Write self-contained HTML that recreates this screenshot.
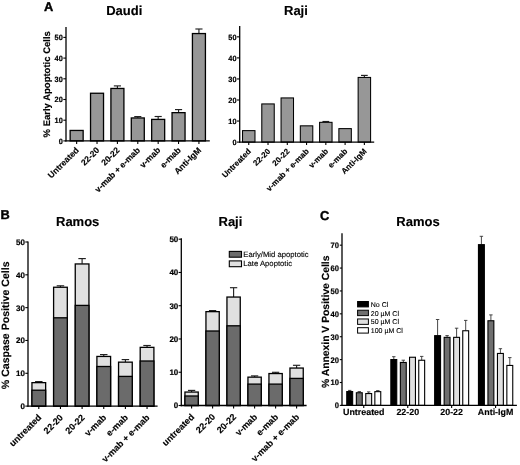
<!DOCTYPE html>
<html><head><meta charset="utf-8"><style>
html,body{margin:0;padding:0;background:#fff;}
svg{display:block;will-change:transform;}
text{font-family:"Liberation Sans", sans-serif;text-rendering:geometricPrecision;}
</style></head><body>
<svg width="520" height="465" viewBox="0 0 520 465">
<rect x="0" y="0" width="520" height="465" fill="#fff"/>
<text x="44.00" y="10.80" font-size="12.8" font-weight="bold" text-anchor="start" fill="#000" stroke="#000" stroke-width="0.4">A</text>
<text x="106.20" y="15.20" font-size="13" font-weight="bold" text-anchor="start" fill="#000" stroke="#000" stroke-width="0.15">Daudi</text>
<text x="284.00" y="15.00" font-size="13" font-weight="bold" text-anchor="start" fill="#000" stroke="#000" stroke-width="0.15">Raji</text>
<text x="50.00" y="84.30" font-size="9.5" font-weight="bold" text-anchor="middle" transform="rotate(-90 50.00 84.30)" fill="#000" stroke="#000" stroke-width="0.15">% Early Apoptotic Cells</text>
<line x1="66.00" y1="27.00" x2="66.00" y2="141.55" stroke="#000" stroke-width="1.3"/>
<line x1="63.30" y1="140.90" x2="66.00" y2="140.90" stroke="#000" stroke-width="1.1"/>
<text transform="translate(62.80 143.64) scale(0.97 1)" x="0" y="0" font-size="7.6" font-weight="bold" text-anchor="end" fill="#000" stroke="#000" stroke-width="0.2">0</text>
<line x1="63.30" y1="120.20" x2="66.00" y2="120.20" stroke="#000" stroke-width="1.1"/>
<text transform="translate(62.80 122.94) scale(0.97 1)" x="0" y="0" font-size="7.6" font-weight="bold" text-anchor="end" fill="#000" stroke="#000" stroke-width="0.2">10</text>
<line x1="63.30" y1="99.50" x2="66.00" y2="99.50" stroke="#000" stroke-width="1.1"/>
<text transform="translate(62.80 102.24) scale(0.97 1)" x="0" y="0" font-size="7.6" font-weight="bold" text-anchor="end" fill="#000" stroke="#000" stroke-width="0.2">20</text>
<line x1="63.30" y1="78.80" x2="66.00" y2="78.80" stroke="#000" stroke-width="1.1"/>
<text transform="translate(62.80 81.54) scale(0.97 1)" x="0" y="0" font-size="7.6" font-weight="bold" text-anchor="end" fill="#000" stroke="#000" stroke-width="0.2">30</text>
<line x1="63.30" y1="58.10" x2="66.00" y2="58.10" stroke="#000" stroke-width="1.1"/>
<text transform="translate(62.80 60.84) scale(0.97 1)" x="0" y="0" font-size="7.6" font-weight="bold" text-anchor="end" fill="#000" stroke="#000" stroke-width="0.2">40</text>
<line x1="63.30" y1="37.40" x2="66.00" y2="37.40" stroke="#000" stroke-width="1.1"/>
<text transform="translate(62.80 40.14) scale(0.97 1)" x="0" y="0" font-size="7.6" font-weight="bold" text-anchor="end" fill="#000" stroke="#000" stroke-width="0.2">50</text>
<rect x="70.15" y="130.45" width="13.00" height="10.45" fill="#979797" stroke="#000" stroke-width="1.3"/>
<rect x="90.53" y="93.25" width="13.00" height="47.65" fill="#979797" stroke="#000" stroke-width="1.3"/>
<line x1="117.41" y1="85.90" x2="117.41" y2="88.30" stroke="#222" stroke-width="1.15"/>
<line x1="113.83" y1="85.90" x2="120.98" y2="85.90" stroke="#222" stroke-width="1.15"/>
<rect x="110.91" y="88.45" width="13.00" height="52.45" fill="#979797" stroke="#000" stroke-width="1.3"/>
<line x1="137.79" y1="116.60" x2="137.79" y2="117.80" stroke="#222" stroke-width="1.15"/>
<line x1="134.22" y1="116.60" x2="141.36" y2="116.60" stroke="#222" stroke-width="1.15"/>
<rect x="131.29" y="117.95" width="13.00" height="22.95" fill="#979797" stroke="#000" stroke-width="1.3"/>
<line x1="158.17" y1="116.50" x2="158.17" y2="119.25" stroke="#222" stroke-width="1.15"/>
<line x1="154.59" y1="116.50" x2="161.74" y2="116.50" stroke="#222" stroke-width="1.15"/>
<rect x="151.67" y="119.40" width="13.00" height="21.50" fill="#979797" stroke="#000" stroke-width="1.3"/>
<line x1="178.55" y1="109.60" x2="178.55" y2="112.50" stroke="#222" stroke-width="1.15"/>
<line x1="174.97" y1="109.60" x2="182.12" y2="109.60" stroke="#222" stroke-width="1.15"/>
<rect x="172.05" y="112.65" width="13.00" height="28.25" fill="#979797" stroke="#000" stroke-width="1.3"/>
<line x1="198.93" y1="29.00" x2="198.93" y2="33.40" stroke="#222" stroke-width="1.15"/>
<line x1="195.36" y1="29.00" x2="202.50" y2="29.00" stroke="#222" stroke-width="1.15"/>
<rect x="192.43" y="33.55" width="13.00" height="107.35" fill="#979797" stroke="#000" stroke-width="1.3"/>
<line x1="65.35" y1="140.90" x2="209.80" y2="140.90" stroke="#000" stroke-width="1.3"/>
<line x1="76.65" y1="140.90" x2="76.65" y2="143.90" stroke="#000" stroke-width="1.1"/>
<text x="79.45" y="150.70" font-size="8.5" font-weight="bold" text-anchor="end" transform="rotate(-45 79.45 150.70)" fill="#000" stroke="#000" stroke-width="0.15">Untreated</text>
<line x1="97.03" y1="140.90" x2="97.03" y2="143.90" stroke="#000" stroke-width="1.1"/>
<text x="99.83" y="150.70" font-size="8.5" font-weight="bold" text-anchor="end" transform="rotate(-45 99.83 150.70)" fill="#000" stroke="#000" stroke-width="0.15">22-20</text>
<line x1="117.41" y1="140.90" x2="117.41" y2="143.90" stroke="#000" stroke-width="1.1"/>
<text x="120.21" y="150.70" font-size="8.5" font-weight="bold" text-anchor="end" transform="rotate(-45 120.21 150.70)" fill="#000" stroke="#000" stroke-width="0.15">20-22</text>
<line x1="137.79" y1="140.90" x2="137.79" y2="143.90" stroke="#000" stroke-width="1.1"/>
<text x="140.59" y="150.70" font-size="8.5" font-weight="bold" text-anchor="end" transform="rotate(-45 140.59 150.70)" fill="#000" stroke="#000" stroke-width="0.15">v-mab + e-mab</text>
<line x1="158.17" y1="140.90" x2="158.17" y2="143.90" stroke="#000" stroke-width="1.1"/>
<text x="160.97" y="150.70" font-size="8.5" font-weight="bold" text-anchor="end" transform="rotate(-45 160.97 150.70)" fill="#000" stroke="#000" stroke-width="0.15">v-mab</text>
<line x1="178.55" y1="140.90" x2="178.55" y2="143.90" stroke="#000" stroke-width="1.1"/>
<text x="181.35" y="150.70" font-size="8.5" font-weight="bold" text-anchor="end" transform="rotate(-45 181.35 150.70)" fill="#000" stroke="#000" stroke-width="0.15">e-mab</text>
<line x1="198.93" y1="140.90" x2="198.93" y2="143.90" stroke="#000" stroke-width="1.1"/>
<text x="201.73" y="150.70" font-size="8.5" font-weight="bold" text-anchor="end" transform="rotate(-45 201.73 150.70)" fill="#000" stroke="#000" stroke-width="0.15">Anti-IgM</text>
<line x1="239.70" y1="26.00" x2="239.70" y2="142.75" stroke="#000" stroke-width="1.3"/>
<line x1="237.00" y1="142.10" x2="239.70" y2="142.10" stroke="#000" stroke-width="1.1"/>
<text transform="translate(236.50 144.84) scale(0.97 1)" x="0" y="0" font-size="7.6" font-weight="bold" text-anchor="end" fill="#000" stroke="#000" stroke-width="0.2">0</text>
<line x1="237.00" y1="121.05" x2="239.70" y2="121.05" stroke="#000" stroke-width="1.1"/>
<text transform="translate(236.50 123.79) scale(0.97 1)" x="0" y="0" font-size="7.6" font-weight="bold" text-anchor="end" fill="#000" stroke="#000" stroke-width="0.2">10</text>
<line x1="237.00" y1="100.00" x2="239.70" y2="100.00" stroke="#000" stroke-width="1.1"/>
<text transform="translate(236.50 102.74) scale(0.97 1)" x="0" y="0" font-size="7.6" font-weight="bold" text-anchor="end" fill="#000" stroke="#000" stroke-width="0.2">20</text>
<line x1="237.00" y1="78.95" x2="239.70" y2="78.95" stroke="#000" stroke-width="1.1"/>
<text transform="translate(236.50 81.69) scale(0.97 1)" x="0" y="0" font-size="7.6" font-weight="bold" text-anchor="end" fill="#000" stroke="#000" stroke-width="0.2">30</text>
<line x1="237.00" y1="57.90" x2="239.70" y2="57.90" stroke="#000" stroke-width="1.1"/>
<text transform="translate(236.50 60.64) scale(0.97 1)" x="0" y="0" font-size="7.6" font-weight="bold" text-anchor="end" fill="#000" stroke="#000" stroke-width="0.2">40</text>
<line x1="237.00" y1="36.85" x2="239.70" y2="36.85" stroke="#000" stroke-width="1.1"/>
<text transform="translate(236.50 39.59) scale(0.97 1)" x="0" y="0" font-size="7.6" font-weight="bold" text-anchor="end" fill="#000" stroke="#000" stroke-width="0.2">50</text>
<rect x="242.53" y="130.62" width="12.45" height="11.47" fill="#979797" stroke="#000" stroke-width="1.05"/>
<rect x="261.79" y="103.93" width="12.45" height="38.17" fill="#979797" stroke="#000" stroke-width="1.05"/>
<rect x="281.06" y="97.93" width="12.45" height="44.17" fill="#979797" stroke="#000" stroke-width="1.05"/>
<rect x="300.33" y="125.83" width="12.45" height="16.27" fill="#979797" stroke="#000" stroke-width="1.05"/>
<line x1="325.83" y1="121.50" x2="325.83" y2="122.30" stroke="#222" stroke-width="1.15"/>
<line x1="322.45" y1="121.50" x2="329.20" y2="121.50" stroke="#222" stroke-width="1.15"/>
<rect x="319.60" y="122.33" width="12.45" height="19.77" fill="#979797" stroke="#000" stroke-width="1.05"/>
<rect x="338.88" y="128.62" width="12.45" height="13.47" fill="#979797" stroke="#000" stroke-width="1.05"/>
<line x1="364.37" y1="75.40" x2="364.37" y2="77.40" stroke="#222" stroke-width="1.15"/>
<line x1="361.00" y1="75.40" x2="367.75" y2="75.40" stroke="#222" stroke-width="1.15"/>
<rect x="358.14" y="77.43" width="12.45" height="64.67" fill="#979797" stroke="#000" stroke-width="1.05"/>
<line x1="239.05" y1="142.10" x2="374.20" y2="142.10" stroke="#000" stroke-width="1.3"/>
<line x1="248.75" y1="142.10" x2="248.75" y2="145.10" stroke="#000" stroke-width="1.1"/>
<text x="251.55" y="151.90" font-size="8.0" font-weight="bold" text-anchor="end" transform="rotate(-45 251.55 151.90)" fill="#000" stroke="#000" stroke-width="0.15">Untreated</text>
<line x1="268.02" y1="142.10" x2="268.02" y2="145.10" stroke="#000" stroke-width="1.1"/>
<text x="270.82" y="151.90" font-size="8.0" font-weight="bold" text-anchor="end" transform="rotate(-45 270.82 151.90)" fill="#000" stroke="#000" stroke-width="0.15">22-20</text>
<line x1="287.29" y1="142.10" x2="287.29" y2="145.10" stroke="#000" stroke-width="1.1"/>
<text x="290.09" y="151.90" font-size="8.0" font-weight="bold" text-anchor="end" transform="rotate(-45 290.09 151.90)" fill="#000" stroke="#000" stroke-width="0.15">20-22</text>
<line x1="306.56" y1="142.10" x2="306.56" y2="145.10" stroke="#000" stroke-width="1.1"/>
<text x="309.36" y="151.90" font-size="8.0" font-weight="bold" text-anchor="end" transform="rotate(-45 309.36 151.90)" fill="#000" stroke="#000" stroke-width="0.15">v-mab + e-mab</text>
<line x1="325.83" y1="142.10" x2="325.83" y2="145.10" stroke="#000" stroke-width="1.1"/>
<text x="328.63" y="151.90" font-size="8.0" font-weight="bold" text-anchor="end" transform="rotate(-45 328.63 151.90)" fill="#000" stroke="#000" stroke-width="0.15">v-mab</text>
<line x1="345.10" y1="142.10" x2="345.10" y2="145.10" stroke="#000" stroke-width="1.1"/>
<text x="347.90" y="151.90" font-size="8.0" font-weight="bold" text-anchor="end" transform="rotate(-45 347.90 151.90)" fill="#000" stroke="#000" stroke-width="0.15">e-mab</text>
<line x1="364.37" y1="142.10" x2="364.37" y2="145.10" stroke="#000" stroke-width="1.1"/>
<text x="367.17" y="151.90" font-size="8.0" font-weight="bold" text-anchor="end" transform="rotate(-45 367.17 151.90)" fill="#000" stroke="#000" stroke-width="0.15">Anti-IgM</text>
<text x="0.50" y="218.50" font-size="12.8" font-weight="bold" text-anchor="start" fill="#000" stroke="#000" stroke-width="0.4">B</text>
<text x="56.00" y="226.00" font-size="13" font-weight="bold" text-anchor="start" fill="#000" stroke="#000" stroke-width="0.15">Ramos</text>
<text x="218.50" y="226.30" font-size="13" font-weight="bold" text-anchor="start" fill="#000" stroke="#000" stroke-width="0.15">Raji</text>
<text x="9.00" y="325.30" font-size="10.6" font-weight="bold" text-anchor="middle" transform="rotate(-90 9.00 325.30)" fill="#000" stroke="#000" stroke-width="0.15">% Caspase Positive Cells</text>
<line x1="28.00" y1="241.50" x2="28.00" y2="406.75" stroke="#000" stroke-width="1.3"/>
<line x1="25.30" y1="406.10" x2="28.00" y2="406.10" stroke="#000" stroke-width="1.1"/>
<text transform="translate(25.00 408.98) scale(1.0 1)" x="0" y="0" font-size="8.0" font-weight="bold" text-anchor="end" fill="#000" stroke="#000" stroke-width="0.2">0</text>
<line x1="25.30" y1="373.28" x2="28.00" y2="373.28" stroke="#000" stroke-width="1.1"/>
<text transform="translate(25.00 376.16) scale(1.0 1)" x="0" y="0" font-size="8.0" font-weight="bold" text-anchor="end" fill="#000" stroke="#000" stroke-width="0.2">10</text>
<line x1="25.30" y1="340.46" x2="28.00" y2="340.46" stroke="#000" stroke-width="1.1"/>
<text transform="translate(25.00 343.34) scale(1.0 1)" x="0" y="0" font-size="8.0" font-weight="bold" text-anchor="end" fill="#000" stroke="#000" stroke-width="0.2">20</text>
<line x1="25.30" y1="307.64" x2="28.00" y2="307.64" stroke="#000" stroke-width="1.1"/>
<text transform="translate(25.00 310.52) scale(1.0 1)" x="0" y="0" font-size="8.0" font-weight="bold" text-anchor="end" fill="#000" stroke="#000" stroke-width="0.2">30</text>
<line x1="25.30" y1="274.82" x2="28.00" y2="274.82" stroke="#000" stroke-width="1.1"/>
<text transform="translate(25.00 277.70) scale(1.0 1)" x="0" y="0" font-size="8.0" font-weight="bold" text-anchor="end" fill="#000" stroke="#000" stroke-width="0.2">40</text>
<line x1="25.30" y1="242.00" x2="28.00" y2="242.00" stroke="#000" stroke-width="1.1"/>
<text transform="translate(25.00 244.88) scale(1.0 1)" x="0" y="0" font-size="8.0" font-weight="bold" text-anchor="end" fill="#000" stroke="#000" stroke-width="0.2">50</text>
<line x1="38.80" y1="381.60" x2="38.80" y2="382.50" stroke="#222" stroke-width="1.15"/>
<line x1="35.05" y1="381.60" x2="42.55" y2="381.60" stroke="#222" stroke-width="1.15"/>
<rect x="31.95" y="382.65" width="13.70" height="23.45" fill="#e0e0e0" stroke="#000" stroke-width="1.3"/>
<rect x="31.95" y="390.20" width="13.70" height="15.90" fill="#6b6b6b" stroke="#000" stroke-width="1.3"/>
<line x1="60.45" y1="285.80" x2="60.45" y2="287.10" stroke="#222" stroke-width="1.15"/>
<line x1="56.70" y1="285.80" x2="64.20" y2="285.80" stroke="#222" stroke-width="1.15"/>
<rect x="53.60" y="287.25" width="13.70" height="118.85" fill="#e0e0e0" stroke="#000" stroke-width="1.3"/>
<rect x="53.60" y="317.80" width="13.70" height="88.30" fill="#6b6b6b" stroke="#000" stroke-width="1.3"/>
<line x1="82.10" y1="258.60" x2="82.10" y2="263.80" stroke="#222" stroke-width="1.15"/>
<line x1="78.35" y1="258.60" x2="85.85" y2="258.60" stroke="#222" stroke-width="1.15"/>
<rect x="75.25" y="263.95" width="13.70" height="142.15" fill="#e0e0e0" stroke="#000" stroke-width="1.3"/>
<rect x="75.25" y="305.40" width="13.70" height="100.70" fill="#6b6b6b" stroke="#000" stroke-width="1.3"/>
<line x1="103.75" y1="354.60" x2="103.75" y2="356.30" stroke="#222" stroke-width="1.15"/>
<line x1="100.00" y1="354.60" x2="107.50" y2="354.60" stroke="#222" stroke-width="1.15"/>
<rect x="96.90" y="356.45" width="13.70" height="49.65" fill="#e0e0e0" stroke="#000" stroke-width="1.3"/>
<rect x="96.90" y="366.50" width="13.70" height="39.60" fill="#6b6b6b" stroke="#000" stroke-width="1.3"/>
<line x1="125.40" y1="359.60" x2="125.40" y2="362.00" stroke="#222" stroke-width="1.15"/>
<line x1="121.65" y1="359.60" x2="129.15" y2="359.60" stroke="#222" stroke-width="1.15"/>
<rect x="118.55" y="362.15" width="13.70" height="43.95" fill="#e0e0e0" stroke="#000" stroke-width="1.3"/>
<rect x="118.55" y="376.40" width="13.70" height="29.70" fill="#6b6b6b" stroke="#000" stroke-width="1.3"/>
<line x1="147.05" y1="345.50" x2="147.05" y2="347.20" stroke="#222" stroke-width="1.15"/>
<line x1="143.30" y1="345.50" x2="150.80" y2="345.50" stroke="#222" stroke-width="1.15"/>
<rect x="140.20" y="347.35" width="13.70" height="58.75" fill="#e0e0e0" stroke="#000" stroke-width="1.3"/>
<rect x="140.20" y="361.00" width="13.70" height="45.10" fill="#6b6b6b" stroke="#000" stroke-width="1.3"/>
<line x1="27.35" y1="406.10" x2="157.60" y2="406.10" stroke="#000" stroke-width="1.3"/>
<line x1="38.80" y1="406.10" x2="38.80" y2="409.10" stroke="#000" stroke-width="1.1"/>
<text x="42.00" y="418.10" font-size="9.0" font-weight="bold" text-anchor="end" transform="rotate(-45 42.00 418.10)" fill="#000" stroke="#000" stroke-width="0.15">untreated</text>
<line x1="60.45" y1="406.10" x2="60.45" y2="409.10" stroke="#000" stroke-width="1.1"/>
<text x="63.65" y="418.10" font-size="9.0" font-weight="bold" text-anchor="end" transform="rotate(-45 63.65 418.10)" fill="#000" stroke="#000" stroke-width="0.15">22-20</text>
<line x1="82.10" y1="406.10" x2="82.10" y2="409.10" stroke="#000" stroke-width="1.1"/>
<text x="85.30" y="418.10" font-size="9.0" font-weight="bold" text-anchor="end" transform="rotate(-45 85.30 418.10)" fill="#000" stroke="#000" stroke-width="0.15">20-22</text>
<line x1="103.75" y1="406.10" x2="103.75" y2="409.10" stroke="#000" stroke-width="1.1"/>
<text x="106.95" y="418.10" font-size="9.0" font-weight="bold" text-anchor="end" transform="rotate(-45 106.95 418.10)" fill="#000" stroke="#000" stroke-width="0.15">v-mab</text>
<line x1="125.40" y1="406.10" x2="125.40" y2="409.10" stroke="#000" stroke-width="1.1"/>
<text x="128.60" y="418.10" font-size="9.0" font-weight="bold" text-anchor="end" transform="rotate(-45 128.60 418.10)" fill="#000" stroke="#000" stroke-width="0.15">e-mab</text>
<line x1="147.05" y1="406.10" x2="147.05" y2="409.10" stroke="#000" stroke-width="1.1"/>
<text x="150.25" y="418.10" font-size="9.0" font-weight="bold" text-anchor="end" transform="rotate(-45 150.25 418.10)" fill="#000" stroke="#000" stroke-width="0.15">v-mab + e-mab</text>
<line x1="181.30" y1="238.30" x2="181.30" y2="406.15" stroke="#000" stroke-width="1.3"/>
<line x1="178.60" y1="405.50" x2="181.30" y2="405.50" stroke="#000" stroke-width="1.1"/>
<text transform="translate(178.30 408.38) scale(1.0 1)" x="0" y="0" font-size="8.0" font-weight="bold" text-anchor="end" fill="#000" stroke="#000" stroke-width="0.2">0</text>
<line x1="178.60" y1="372.24" x2="181.30" y2="372.24" stroke="#000" stroke-width="1.1"/>
<text transform="translate(178.30 375.12) scale(1.0 1)" x="0" y="0" font-size="8.0" font-weight="bold" text-anchor="end" fill="#000" stroke="#000" stroke-width="0.2">10</text>
<line x1="178.60" y1="338.98" x2="181.30" y2="338.98" stroke="#000" stroke-width="1.1"/>
<text transform="translate(178.30 341.86) scale(1.0 1)" x="0" y="0" font-size="8.0" font-weight="bold" text-anchor="end" fill="#000" stroke="#000" stroke-width="0.2">20</text>
<line x1="178.60" y1="305.72" x2="181.30" y2="305.72" stroke="#000" stroke-width="1.1"/>
<text transform="translate(178.30 308.60) scale(1.0 1)" x="0" y="0" font-size="8.0" font-weight="bold" text-anchor="end" fill="#000" stroke="#000" stroke-width="0.2">30</text>
<line x1="178.60" y1="272.46" x2="181.30" y2="272.46" stroke="#000" stroke-width="1.1"/>
<text transform="translate(178.30 275.34) scale(1.0 1)" x="0" y="0" font-size="8.0" font-weight="bold" text-anchor="end" fill="#000" stroke="#000" stroke-width="0.2">40</text>
<line x1="178.60" y1="239.20" x2="181.30" y2="239.20" stroke="#000" stroke-width="1.1"/>
<text transform="translate(178.30 242.08) scale(1.0 1)" x="0" y="0" font-size="8.0" font-weight="bold" text-anchor="end" fill="#000" stroke="#000" stroke-width="0.2">50</text>
<line x1="191.60" y1="390.40" x2="191.60" y2="391.90" stroke="#222" stroke-width="1.15"/>
<line x1="187.95" y1="390.40" x2="195.25" y2="390.40" stroke="#222" stroke-width="1.15"/>
<rect x="184.95" y="392.05" width="13.30" height="13.45" fill="#e0e0e0" stroke="#000" stroke-width="1.3"/>
<rect x="184.95" y="396.00" width="13.30" height="9.50" fill="#6b6b6b" stroke="#000" stroke-width="1.3"/>
<line x1="212.60" y1="310.60" x2="212.60" y2="311.50" stroke="#222" stroke-width="1.15"/>
<line x1="208.95" y1="310.60" x2="216.25" y2="310.60" stroke="#222" stroke-width="1.15"/>
<rect x="205.95" y="311.65" width="13.30" height="93.85" fill="#e0e0e0" stroke="#000" stroke-width="1.3"/>
<rect x="205.95" y="331.00" width="13.30" height="74.50" fill="#6b6b6b" stroke="#000" stroke-width="1.3"/>
<line x1="233.60" y1="287.70" x2="233.60" y2="296.90" stroke="#222" stroke-width="1.15"/>
<line x1="229.95" y1="287.70" x2="237.25" y2="287.70" stroke="#222" stroke-width="1.15"/>
<rect x="226.95" y="297.05" width="13.30" height="108.45" fill="#e0e0e0" stroke="#000" stroke-width="1.3"/>
<rect x="226.95" y="325.80" width="13.30" height="79.70" fill="#6b6b6b" stroke="#000" stroke-width="1.3"/>
<line x1="254.60" y1="375.90" x2="254.60" y2="377.00" stroke="#222" stroke-width="1.15"/>
<line x1="250.95" y1="375.90" x2="258.25" y2="375.90" stroke="#222" stroke-width="1.15"/>
<rect x="247.95" y="377.15" width="13.30" height="28.35" fill="#e0e0e0" stroke="#000" stroke-width="1.3"/>
<rect x="247.95" y="384.10" width="13.30" height="21.40" fill="#6b6b6b" stroke="#000" stroke-width="1.3"/>
<line x1="275.60" y1="372.30" x2="275.60" y2="373.40" stroke="#222" stroke-width="1.15"/>
<line x1="271.95" y1="372.30" x2="279.25" y2="372.30" stroke="#222" stroke-width="1.15"/>
<rect x="268.95" y="373.55" width="13.30" height="31.95" fill="#e0e0e0" stroke="#000" stroke-width="1.3"/>
<rect x="268.95" y="384.10" width="13.30" height="21.40" fill="#6b6b6b" stroke="#000" stroke-width="1.3"/>
<line x1="296.60" y1="365.30" x2="296.60" y2="367.90" stroke="#222" stroke-width="1.15"/>
<line x1="292.95" y1="365.30" x2="300.25" y2="365.30" stroke="#222" stroke-width="1.15"/>
<rect x="289.95" y="368.05" width="13.30" height="37.45" fill="#e0e0e0" stroke="#000" stroke-width="1.3"/>
<rect x="289.95" y="378.40" width="13.30" height="27.10" fill="#6b6b6b" stroke="#000" stroke-width="1.3"/>
<line x1="180.65" y1="405.50" x2="306.60" y2="405.50" stroke="#000" stroke-width="1.3"/>
<line x1="191.60" y1="405.50" x2="191.60" y2="408.50" stroke="#000" stroke-width="1.1"/>
<text x="194.80" y="417.50" font-size="9.0" font-weight="bold" text-anchor="end" transform="rotate(-45 194.80 417.50)" fill="#000" stroke="#000" stroke-width="0.15">untreated</text>
<line x1="212.60" y1="405.50" x2="212.60" y2="408.50" stroke="#000" stroke-width="1.1"/>
<text x="215.80" y="417.50" font-size="9.0" font-weight="bold" text-anchor="end" transform="rotate(-45 215.80 417.50)" fill="#000" stroke="#000" stroke-width="0.15">22-20</text>
<line x1="233.60" y1="405.50" x2="233.60" y2="408.50" stroke="#000" stroke-width="1.1"/>
<text x="236.80" y="417.50" font-size="9.0" font-weight="bold" text-anchor="end" transform="rotate(-45 236.80 417.50)" fill="#000" stroke="#000" stroke-width="0.15">20-22</text>
<line x1="254.60" y1="405.50" x2="254.60" y2="408.50" stroke="#000" stroke-width="1.1"/>
<text x="257.80" y="417.50" font-size="9.0" font-weight="bold" text-anchor="end" transform="rotate(-45 257.80 417.50)" fill="#000" stroke="#000" stroke-width="0.15">v-mab</text>
<line x1="275.60" y1="405.50" x2="275.60" y2="408.50" stroke="#000" stroke-width="1.1"/>
<text x="278.80" y="417.50" font-size="9.0" font-weight="bold" text-anchor="end" transform="rotate(-45 278.80 417.50)" fill="#000" stroke="#000" stroke-width="0.15">e-mab</text>
<line x1="296.60" y1="405.50" x2="296.60" y2="408.50" stroke="#000" stroke-width="1.1"/>
<text x="299.80" y="417.50" font-size="9.0" font-weight="bold" text-anchor="end" transform="rotate(-45 299.80 417.50)" fill="#000" stroke="#000" stroke-width="0.15">v-mab + e-mab</text>
<rect x="229.30" y="251.40" width="12.20" height="5.80" fill="#6b6b6b" stroke="#000" stroke-width="1.1"/>
<rect x="229.30" y="260.90" width="12.20" height="5.80" fill="#e0e0e0" stroke="#000" stroke-width="1.1"/>
<text x="243.30" y="257.10" font-size="7.7" font-weight="normal" text-anchor="start" fill="#000" stroke="#000" stroke-width="0.12">Early/Mid apoptotic</text>
<text x="243.30" y="266.40" font-size="7.7" font-weight="normal" text-anchor="start" fill="#000" stroke="#000" stroke-width="0.12">Late Apoptotic</text>
<text x="320.00" y="219.90" font-size="12.8" font-weight="bold" text-anchor="start" fill="#000" stroke="#000" stroke-width="0.4">C</text>
<text x="396.30" y="226.30" font-size="13" font-weight="bold" text-anchor="start" fill="#000" stroke="#000" stroke-width="0.15">Ramos</text>
<text x="329.00" y="321.80" font-size="10.35" font-weight="bold" text-anchor="middle" transform="rotate(-90 329.00 321.80)" fill="#000" stroke="#000" stroke-width="0.15">% Annexin V Positive Cells</text>
<line x1="342.00" y1="233.30" x2="342.00" y2="406.05" stroke="#000" stroke-width="1.3"/>
<line x1="339.80" y1="405.40" x2="342.00" y2="405.40" stroke="#000" stroke-width="1.1"/>
<text transform="translate(339.00 408.28) scale(0.95 1)" x="0" y="0" font-size="8.0" font-weight="bold" text-anchor="end" fill="#000" stroke="#000" stroke-width="0.2">0</text>
<line x1="339.80" y1="382.51" x2="342.00" y2="382.51" stroke="#000" stroke-width="1.1"/>
<text transform="translate(339.00 385.39) scale(0.95 1)" x="0" y="0" font-size="8.0" font-weight="bold" text-anchor="end" fill="#000" stroke="#000" stroke-width="0.2">10</text>
<line x1="339.80" y1="359.62" x2="342.00" y2="359.62" stroke="#000" stroke-width="1.1"/>
<text transform="translate(339.00 362.50) scale(0.95 1)" x="0" y="0" font-size="8.0" font-weight="bold" text-anchor="end" fill="#000" stroke="#000" stroke-width="0.2">20</text>
<line x1="339.80" y1="336.73" x2="342.00" y2="336.73" stroke="#000" stroke-width="1.1"/>
<text transform="translate(339.00 339.61) scale(0.95 1)" x="0" y="0" font-size="8.0" font-weight="bold" text-anchor="end" fill="#000" stroke="#000" stroke-width="0.2">30</text>
<line x1="339.80" y1="313.84" x2="342.00" y2="313.84" stroke="#000" stroke-width="1.1"/>
<text transform="translate(339.00 316.72) scale(0.95 1)" x="0" y="0" font-size="8.0" font-weight="bold" text-anchor="end" fill="#000" stroke="#000" stroke-width="0.2">40</text>
<line x1="339.80" y1="290.95" x2="342.00" y2="290.95" stroke="#000" stroke-width="1.1"/>
<text transform="translate(339.00 293.83) scale(0.95 1)" x="0" y="0" font-size="8.0" font-weight="bold" text-anchor="end" fill="#000" stroke="#000" stroke-width="0.2">50</text>
<line x1="339.80" y1="268.06" x2="342.00" y2="268.06" stroke="#000" stroke-width="1.1"/>
<text transform="translate(339.00 270.94) scale(0.95 1)" x="0" y="0" font-size="8.0" font-weight="bold" text-anchor="end" fill="#000" stroke="#000" stroke-width="0.2">60</text>
<line x1="339.80" y1="245.17" x2="342.00" y2="245.17" stroke="#000" stroke-width="1.1"/>
<text transform="translate(339.00 248.05) scale(0.95 1)" x="0" y="0" font-size="8.0" font-weight="bold" text-anchor="end" fill="#000" stroke="#000" stroke-width="0.2">70</text>
<line x1="349.70" y1="390.40" x2="349.70" y2="391.50" stroke="#333" stroke-width="0.9"/>
<line x1="348.00" y1="390.40" x2="351.40" y2="390.40" stroke="#333" stroke-width="0.9"/>
<rect x="346.75" y="391.55" width="5.90" height="13.85" fill="#000000" stroke="#000" stroke-width="1.1"/>
<line x1="359.30" y1="391.60" x2="359.30" y2="392.70" stroke="#333" stroke-width="0.9"/>
<line x1="357.60" y1="391.60" x2="361.00" y2="391.60" stroke="#333" stroke-width="0.9"/>
<rect x="356.35" y="392.75" width="5.90" height="12.65" fill="#6f6f6f" stroke="#000" stroke-width="1.1"/>
<line x1="368.70" y1="391.90" x2="368.70" y2="393.50" stroke="#333" stroke-width="0.9"/>
<line x1="367.00" y1="391.90" x2="370.40" y2="391.90" stroke="#333" stroke-width="0.9"/>
<rect x="365.75" y="393.55" width="5.90" height="11.85" fill="#e0e0e0" stroke="#000" stroke-width="1.1"/>
<line x1="377.80" y1="390.60" x2="377.80" y2="391.60" stroke="#333" stroke-width="0.9"/>
<line x1="376.10" y1="390.60" x2="379.50" y2="390.60" stroke="#333" stroke-width="0.9"/>
<rect x="374.85" y="391.65" width="5.90" height="13.75" fill="#ffffff" stroke="#000" stroke-width="1.1"/>
<line x1="393.80" y1="356.70" x2="393.80" y2="359.50" stroke="#333" stroke-width="0.9"/>
<line x1="392.10" y1="356.70" x2="395.50" y2="356.70" stroke="#333" stroke-width="0.9"/>
<rect x="390.85" y="359.55" width="5.90" height="45.85" fill="#000000" stroke="#000" stroke-width="1.1"/>
<line x1="403.30" y1="360.20" x2="403.30" y2="362.40" stroke="#333" stroke-width="0.9"/>
<line x1="401.60" y1="360.20" x2="405.00" y2="360.20" stroke="#333" stroke-width="0.9"/>
<rect x="400.35" y="362.45" width="5.90" height="42.95" fill="#6f6f6f" stroke="#000" stroke-width="1.1"/>
<rect x="409.55" y="357.25" width="5.90" height="48.15" fill="#e0e0e0" stroke="#000" stroke-width="1.1"/>
<line x1="421.70" y1="356.40" x2="421.70" y2="360.20" stroke="#333" stroke-width="0.9"/>
<line x1="420.00" y1="356.40" x2="423.40" y2="356.40" stroke="#333" stroke-width="0.9"/>
<rect x="418.75" y="360.25" width="5.90" height="45.15" fill="#ffffff" stroke="#000" stroke-width="1.1"/>
<line x1="437.60" y1="319.50" x2="437.60" y2="335.60" stroke="#333" stroke-width="0.9"/>
<line x1="435.90" y1="319.50" x2="439.30" y2="319.50" stroke="#333" stroke-width="0.9"/>
<rect x="434.65" y="335.65" width="5.90" height="69.75" fill="#000000" stroke="#000" stroke-width="1.1"/>
<line x1="447.10" y1="335.60" x2="447.10" y2="337.30" stroke="#333" stroke-width="0.9"/>
<line x1="445.40" y1="335.60" x2="448.80" y2="335.60" stroke="#333" stroke-width="0.9"/>
<rect x="444.15" y="337.35" width="5.90" height="68.05" fill="#6f6f6f" stroke="#000" stroke-width="1.1"/>
<line x1="456.60" y1="328.20" x2="456.60" y2="337.30" stroke="#333" stroke-width="0.9"/>
<line x1="454.90" y1="328.20" x2="458.30" y2="328.20" stroke="#333" stroke-width="0.9"/>
<rect x="453.65" y="337.35" width="5.90" height="68.05" fill="#e0e0e0" stroke="#000" stroke-width="1.1"/>
<line x1="465.70" y1="320.40" x2="465.70" y2="330.70" stroke="#333" stroke-width="0.9"/>
<line x1="464.00" y1="320.40" x2="467.40" y2="320.40" stroke="#333" stroke-width="0.9"/>
<rect x="462.75" y="330.75" width="5.90" height="74.65" fill="#ffffff" stroke="#000" stroke-width="1.1"/>
<line x1="481.40" y1="236.30" x2="481.40" y2="244.60" stroke="#333" stroke-width="0.9"/>
<line x1="479.70" y1="236.30" x2="483.10" y2="236.30" stroke="#333" stroke-width="0.9"/>
<rect x="478.45" y="244.65" width="5.90" height="160.75" fill="#000000" stroke="#000" stroke-width="1.1"/>
<line x1="490.90" y1="314.90" x2="490.90" y2="320.70" stroke="#333" stroke-width="0.9"/>
<line x1="489.20" y1="314.90" x2="492.60" y2="314.90" stroke="#333" stroke-width="0.9"/>
<rect x="487.95" y="320.75" width="5.90" height="84.65" fill="#6f6f6f" stroke="#000" stroke-width="1.1"/>
<line x1="500.40" y1="348.70" x2="500.40" y2="353.40" stroke="#333" stroke-width="0.9"/>
<line x1="498.70" y1="348.70" x2="502.10" y2="348.70" stroke="#333" stroke-width="0.9"/>
<rect x="497.45" y="353.45" width="5.90" height="51.95" fill="#e0e0e0" stroke="#000" stroke-width="1.1"/>
<line x1="509.80" y1="357.60" x2="509.80" y2="365.40" stroke="#333" stroke-width="0.9"/>
<line x1="508.10" y1="357.60" x2="511.50" y2="357.60" stroke="#333" stroke-width="0.9"/>
<rect x="506.85" y="365.45" width="5.90" height="39.95" fill="#ffffff" stroke="#000" stroke-width="1.1"/>
<line x1="341.35" y1="405.40" x2="516.90" y2="405.40" stroke="#000" stroke-width="1.3"/>
<line x1="363.75" y1="405.40" x2="363.75" y2="407.90" stroke="#000" stroke-width="1.1"/>
<text x="363.75" y="415.40" font-size="8.9" font-weight="bold" text-anchor="middle" fill="#000" stroke="#000" stroke-width="0.15">Untreated</text>
<line x1="407.75" y1="405.40" x2="407.75" y2="407.90" stroke="#000" stroke-width="1.1"/>
<text x="407.75" y="415.40" font-size="8.9" font-weight="bold" text-anchor="middle" fill="#000" stroke="#000" stroke-width="0.15">22-20</text>
<line x1="451.65" y1="405.40" x2="451.65" y2="407.90" stroke="#000" stroke-width="1.1"/>
<text x="451.65" y="415.40" font-size="8.9" font-weight="bold" text-anchor="middle" fill="#000" stroke="#000" stroke-width="0.15">20-22</text>
<line x1="495.60" y1="405.40" x2="495.60" y2="407.90" stroke="#000" stroke-width="1.1"/>
<text x="495.60" y="415.40" font-size="8.9" font-weight="bold" text-anchor="middle" fill="#000" stroke="#000" stroke-width="0.15">Anti-IgM</text>
<rect x="357.60" y="301.50" width="10.80" height="5.40" fill="#000000" stroke="#000" stroke-width="1.0"/>
<text x="370.80" y="306.80" font-size="7" font-weight="normal" text-anchor="start" fill="#000" stroke="#000" stroke-width="0.12">No Cl</text>
<rect x="357.60" y="310.23" width="10.80" height="5.40" fill="#6f6f6f" stroke="#000" stroke-width="1.0"/>
<text x="370.80" y="315.53" font-size="7" font-weight="normal" text-anchor="start" fill="#000" stroke="#000" stroke-width="0.12">20 µM Cl</text>
<rect x="357.60" y="318.96" width="10.80" height="5.40" fill="#e0e0e0" stroke="#000" stroke-width="1.0"/>
<text x="370.80" y="324.26" font-size="7" font-weight="normal" text-anchor="start" fill="#000" stroke="#000" stroke-width="0.12">50 µM Cl</text>
<rect x="357.60" y="327.69" width="10.80" height="5.40" fill="#ffffff" stroke="#000" stroke-width="1.0"/>
<text x="370.80" y="332.99" font-size="7" font-weight="normal" text-anchor="start" fill="#000" stroke="#000" stroke-width="0.12">100 µM Cl</text>
</svg>
</body></html>
